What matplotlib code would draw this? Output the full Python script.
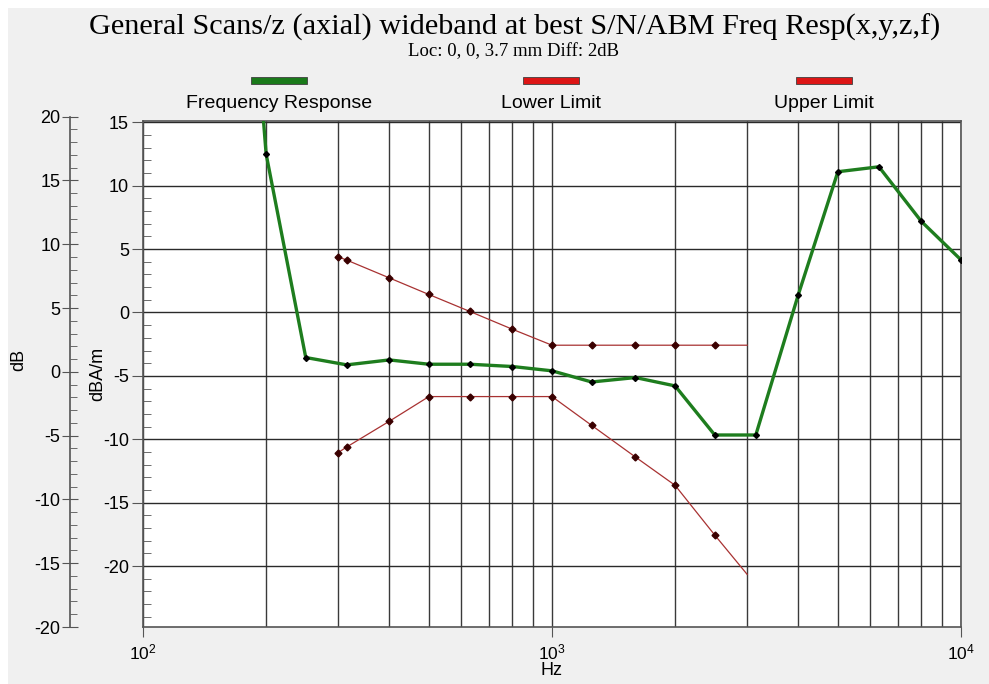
import matplotlib
matplotlib.use("Agg")
import matplotlib.pyplot as plt
from matplotlib.patches import Rectangle
from matplotlib.ticker import MultipleLocator, LogLocator, NullFormatter

#%% --- Data ---

freq_hz = [160, 200, 250, 315, 400, 500, 630, 800, 1000, 1250,
           1600, 2000, 2500, 3150, 4000, 5000, 6300, 8000, 10000]
freq_resp = [52, 12.5, -3.55, -4.13, -3.74, -4.08, -4.08, -4.26, -4.6, -5.48,
             -5.13, -5.79, -9.66, -9.66, 1.39, 11.1, 11.49, 7.18, 4.15]

limit_hz = [300, 315, 400, 500, 630, 800, 1000, 1250, 1600, 2000, 2500, 3000]
upper_limit = [4.39, 4.13, 2.73, 1.42, 0.08, -1.32, -2.58, -2.58, -2.58,
               -2.58, -2.58, -2.58]
lower_limit = [-11.05, -10.6, -8.58, -6.63, -6.63, -6.63, -6.63, -8.9, -11.4,
               -13.63, -17.55, -20.65]

legend_names = ["Frequency Response", "Lower Limit", "Upper Limit"]
legend_colors = ["#1a7a1a", "#dd1515", "#dd1515"]

title = "General Scans/z (axial) wideband at best S/N/ABM Freq Resp(x,y,z,f)"
subtitle = "Loc: 0, 0, 3.7 mm Diff: 2dB"

#%% --- Figure setup ---

plt.rcParams["font.family"] = ["Liberation Sans", "DejaVu Sans"]
plt.rcParams["axes.unicode_minus"] = False
W, H = 989, 684
fig = plt.figure(figsize=(W / 100, H / 100), dpi=100, facecolor="white")

# grey panel (thin white strip on top and left like the original screenshot)
fig.patches.append(Rectangle((8 / W, 0), 1, 1 - 8 / H, transform=fig.transFigure,
                             facecolor="#f0f0f0", edgecolor="none", zorder=-10))

def fx(px):
    return px / W

def fy(py):
    return 1 - py / H

ax = fig.add_axes([fx(143), fy(627), fx(961) - fx(143), fy(121) - fy(627)])
ax.set_facecolor("white")

# --- Plot the data ---
ax.plot(freq_hz, freq_resp, color="#1e7d1e", linewidth=2.4,
        marker="D", markersize=3, markerfacecolor="black",
        markeredgecolor="black", zorder=4)
for vals in [upper_limit, lower_limit]:
    ax.plot(limit_hz, vals, color="#a83232", linewidth=0.9,
            marker="D", markersize=3.5, markerfacecolor="#3a0000",
            markeredgecolor="#3a0000", markevery=slice(0, -1), zorder=3)

# --- Axes ---
ax.set_xscale("log")
ax.set_xlim(100, 10000)
ax.set_ylim(-24.8, 15.1)

ax.xaxis.set_major_locator(LogLocator(base=10, numticks=5))
ax.xaxis.set_minor_locator(LogLocator(base=10, subs=range(2, 10), numticks=20))
ax.xaxis.set_minor_formatter(NullFormatter())
ax.yaxis.set_major_locator(MultipleLocator(5))
ax.yaxis.set_minor_locator(MultipleLocator(1))

ax.grid(which="major", axis="y", color="#2a2a2a", linewidth=1.0)
ax.grid(which="both", axis="x", color="#3a3a3a", linewidth=1.0)
ax.set_axisbelow(True)

for side in ["left", "bottom", "top", "right"]:
    ax.spines[side].set_color("#555555")
    ax.spines[side].set_linewidth(1.2)

ax.tick_params(axis="y", which="major", direction="out", length=8,
               color="#555555", labelsize=13, pad=2)
ax.tick_params(axis="y", which="minor", direction="in", length=6,
               color="#555555")
ax.tick_params(axis="x", which="major", direction="out", length=7,
               color="#555555", labelsize=12.5, pad=4)
ax.tick_params(axis="x", which="minor", length=0)

ax.set_xlabel("Hz", fontsize=13, labelpad=0)
ax.set_ylabel("dBA/m", fontsize=13, labelpad=-2)

# --- outer dB axis ---
ax2 = fig.add_axes([fx(70), fy(627), 0.001, fy(116.7) - fy(627)])
ax2.set_facecolor("none")
ax2.set_ylim(-20, 20)
ax2.set_xticks([])
for side in ["right", "bottom", "top"]:
    ax2.spines[side].set_visible(False)
ax2.spines["left"].set_color("#555555")
ax2.spines["left"].set_linewidth(1.2)
ax2.yaxis.set_major_locator(MultipleLocator(5))
ax2.yaxis.set_minor_locator(MultipleLocator(1))
ax2.tick_params(axis="y", which="major", direction="inout", length=12,
                color="#555555", labelsize=13, pad=1)
ax2.tick_params(axis="y", which="minor", direction="in", length=5,
                color="#555555")
fig.text(fx(19), fy(360), "dB", rotation=90, fontsize=13,
         ha="center", va="center")

# --- Title and legend ---
fig.text(fx(515), fy(27), title, family=["Liberation Serif", "DejaVu Serif"],
         fontsize=21.8, ha="center", va="center")
fig.text(fx(513), fy(52), subtitle, family=["Liberation Serif", "DejaVu Serif"],
         fontsize=13.5, ha="center", va="center")

legend_x = [279, 551, 824]
for name, color, cx in zip(legend_names, legend_colors, legend_x):
    fig.patches.append(Rectangle((fx(cx - 28), fy(84)), 56 / W, 7 / H,
                                 transform=fig.transFigure, facecolor=color,
                                 edgecolor="#404040", linewidth=0.6))
    fig.text(fx(cx), fy(103), name, fontsize=14, ha="center", va="center")

fig.savefig("out.png", dpi=100, facecolor=fig.get_facecolor())
